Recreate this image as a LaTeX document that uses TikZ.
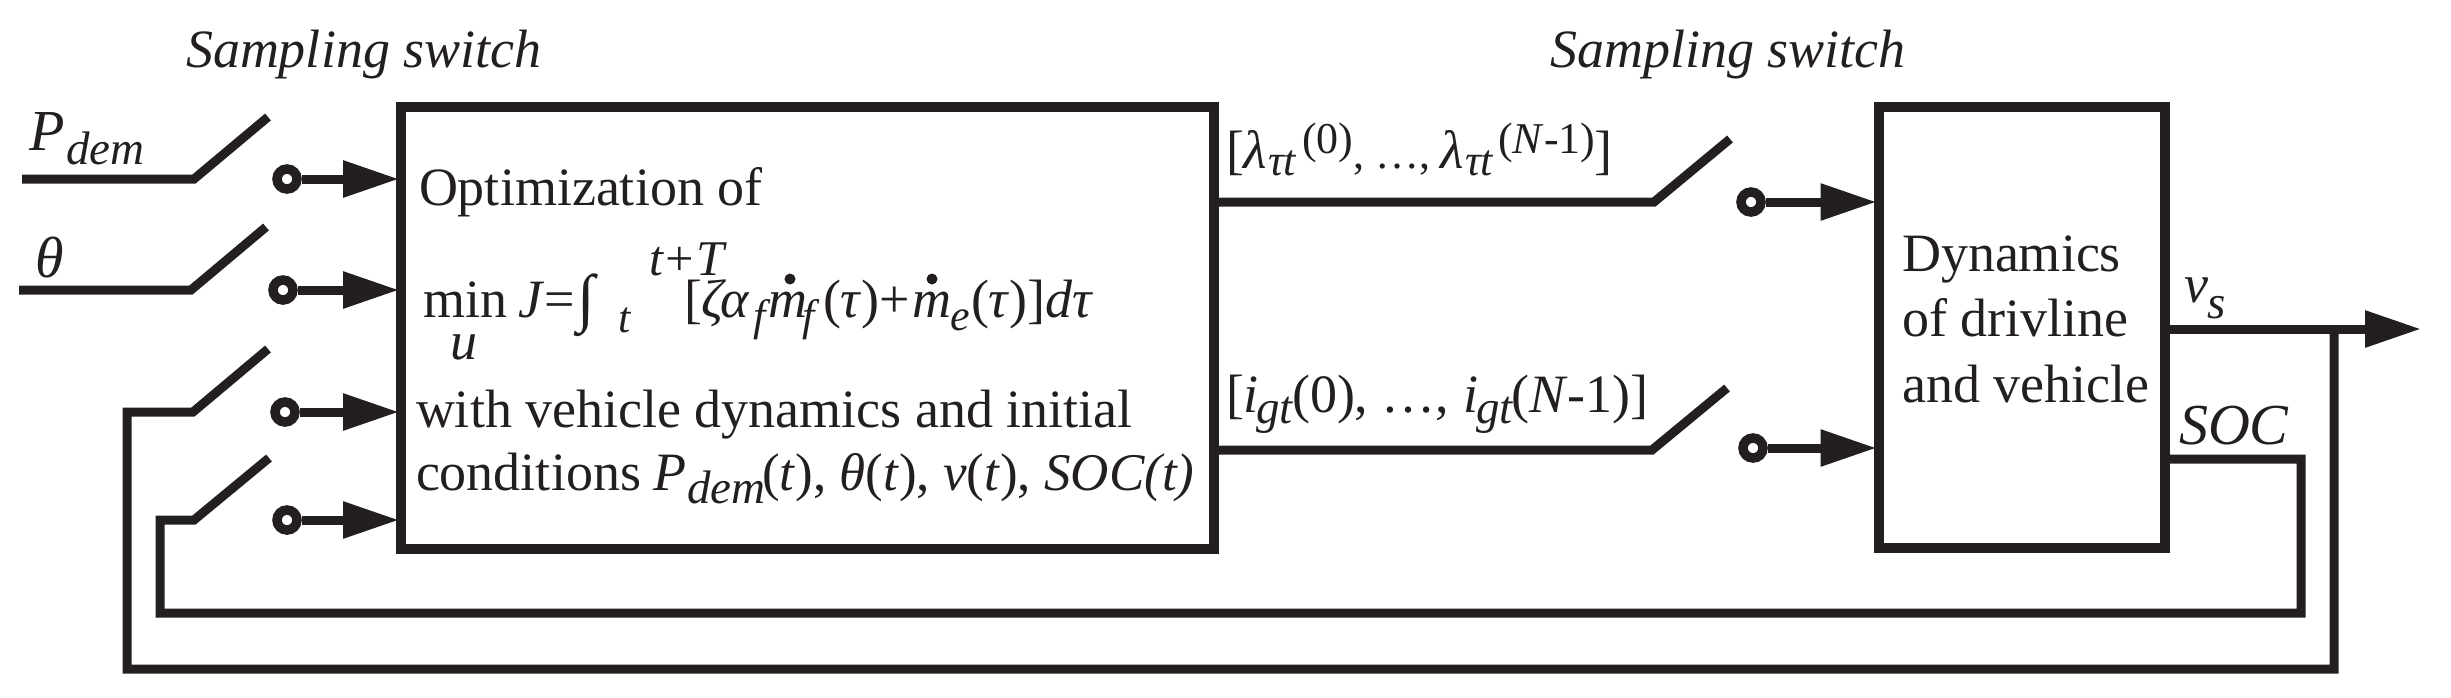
\documentclass[tikz,border=0pt]{standalone}
\usepackage{fontspec}
\setmainfont{Liberation Serif}
\usetikzlibrary{arrows.meta}
\definecolor{ink}{HTML}{231F20}
\newcommand{\fs}[1]{\fontsize{#1}{#1}\selectfont}
\tikzset{
  wire/.style={draw=ink,line width=9pt,line join=miter},
  sig/.style={wire,-{Triangle[length=56pt,width=35pt]},shorten >=-3pt},
  blockbox/.style={draw=ink,line width=10pt,inner sep=0pt},
  contact/.style={draw=ink,circle,line width=9.5pt,minimum size=20pt,inner sep=0pt},
  txt/.style={anchor=base west,inner sep=0pt,outer sep=0pt,text=ink,font=\fs{54}},
  sub/.style={txt,font=\fs{44}\itshape},
  subb/.style={txt,font=\fs{47}\itshape},
  mdot/.style={circle,fill=ink,minimum size=11pt,inner sep=0pt},
}
\begin{document}
\begin{tikzpicture}[x=1pt,y=-1pt]
\useasboundingbox (0,0) rectangle (2451,697);
% blocks
\node[blockbox,minimum width=813pt,minimum height=442pt] (opt) at (807.5,328) {};
\node[blockbox,minimum width=286.5pt,minimum height=441pt] (dyn) at (2021.75,327.5) {};
% contacts
\node[contact] (c1) at (287,179) {};
\node[contact] (c2) at (283,290) {};
\node[contact] (c3) at (285,412) {};
\node[contact] (c4) at (287,520) {};
\node[contact] (c5) at (1751,202) {};
\node[contact] (c6) at (1753,448) {};
% switch points
\coordinate (a1) at (22,179); \coordinate (b1) at (194,179); \coordinate (e1) at (268,117);
\coordinate (a2) at (19,290); \coordinate (b2) at (191,290); \coordinate (e2) at (266,227);
\coordinate (b3) at (193,412); \coordinate (e3) at (268,349);
\coordinate (b4) at (194,520); \coordinate (e4) at (269,458);
\coordinate (b5) at (1654,202); \coordinate (e5) at (1730,139);
\coordinate (b6) at (1652,450); \coordinate (e6) at (1727,388);
% feedback points
\coordinate (vsend) at (2418,329);
\coordinate (tap) at (2334,329);
\coordinate (tapd) at (2334,669);
\coordinate (fbl) at (127,669);
\coordinate (fbu) at (127,412);
\coordinate (soc1) at (2301,459);
\coordinate (soc2) at (2301,613);
\coordinate (fb4l) at (160,613);
\coordinate (fb4u) at (160,520);
% input switches
\draw[wire] (a1) -- (b1) -- (e1);
\draw[wire] (a2) -- (b2) -- (e2);
\draw[wire] (tap) -- (tapd) -- (fbl) -- (fbu) -- (b3) -- (e3);
\draw[wire] (soc1 -| dyn.east) -- (soc1) -- (soc2) -- (fb4l) -- (fb4u) -- (b4) -- (e4);
\draw[sig] (c1.east) -- (c1 -| opt.west);
\draw[sig] (c2.east) -- (c2 -| opt.west);
\draw[sig] (c3.east) -- (c3 -| opt.west);
\draw[sig] (c4.east) -- (c4 -| opt.west);
% output switches
\draw[wire] (b5 -| opt.east) -- (b5) -- (e5);
\draw[wire] (b6 -| opt.east) -- (b6) -- (e6);
\draw[sig] (c5.east) -- (c5 -| dyn.west);
\draw[sig] (c6.east) -- (c6 -| dyn.west);
\draw[sig] (vsend -| dyn.east) -- (vsend);
% labels
\node[txt,font=\fs{54}\itshape] (ss1) at (186,67) {Sampling switch};
\node[txt,font=\fs{54}\itshape] (ss2) at (1550,67) {Sampling switch};
\node[txt,font=\fs{58}\itshape] (pd) at (29,150) {P};
\node[subb] (pds) at (66,164) {dem};
\node[txt,font=\fs{58}\itshape] (th) at (35,277) {θ};
% box 1 text
\node[txt] (l1) at (419,205) {Optimization of};
\node[txt] (mn) at (423,317) {min};
\node[txt,font=\fs{54}\itshape] (mu) at (450,359) {u};
\node[txt] (jj) at (518,317) {\textit{J}=};
\node[txt,font=\fs{64}] (ig) at (577,319) {∫};
\node[sub] (lo) at (618,332) {t};
\node[txt,font=\fs{50}\itshape] (up) at (649,275) {t+T};
\node[txt] (t1) at (684,317) {[\textit{ζα}};
\node[sub] (f1) at (753,330) {f};
\node[txt,font=\fs{54}\itshape] (m1) at (768,317) {m};
\node[mdot] (d1) at (790,279) {};
\node[sub] (f2) at (802,330) {f};
\node[txt] (t2) at (823,317) {(\textit{τ})+};
\node[txt,font=\fs{54}\itshape] (m2) at (912,317) {m};
\node[mdot] (d2) at (932,279) {};
\node[sub] (e2t) at (950,330) {e};
\node[txt] (t3) at (971,317) {(\textit{τ})]\textit{dτ}};
\node[txt] (l3) at (416,427) {with vehicle dynamics and initial};
\node[txt] (l4) at (416,490) {conditions};
\node[txt,font=\fs{54}\itshape] (l4p) at (653,490) {P};
\node[subb] (l4d) at (687,503) {dem};
\node[txt,font=\fs{53}] (l4r) at (762,490) {(\textit{t}), \textit{θ}(\textit{t}), \textit{v}(\textit{t}), \textit{SOC(t)}};
% outputs
\node[txt] (a0) at (1226,168) {[\textit{λ}};
\node[sub] (a1t) at (1268,175) {τt};
\node[txt,font=\fs{44}] (a2t) at (1302,153) {(0)};
\node[txt,font=\fs{44}] (a3) at (1353,168) {, …,};
\node[txt,font=\fs{54}\itshape] (a4) at (1440,168) {λ};
\node[sub] (a5) at (1465,175) {τt};
\node[txt,font=\fs{44}] (a6) at (1498,153) {(\textit{N}-1)};
\node[txt] (a7) at (1594,168) {]};
\node[txt] (g0) at (1226,412) {[\textit{i}};
\node[subb] (g1) at (1256,423) {gt};
\node[txt] (g2) at (1292,412) {(0), …,};
\node[txt,font=\fs{54}\itshape] (g3) at (1463,412) {i};
\node[subb] (g4) at (1476,423) {gt};
\node[txt] (g5) at (1511,412) {(\textit{N}-1)]};
% box 2 text
\node[txt] (d1t) at (1902,271.5) {Dynamics};
\node[txt] (d2t) at (1902,336) {of drivline};
\node[txt] (d3t) at (1902,402) {and vehicle};
\node[txt,font=\fs{54}\itshape] (vv) at (2184,302) {v};
\node[subb] (vs) at (2207,318) {s};
\node[txt,font=\fs{58}\itshape] (sc) at (2179,444) {SOC};
\end{tikzpicture}
\end{document}
